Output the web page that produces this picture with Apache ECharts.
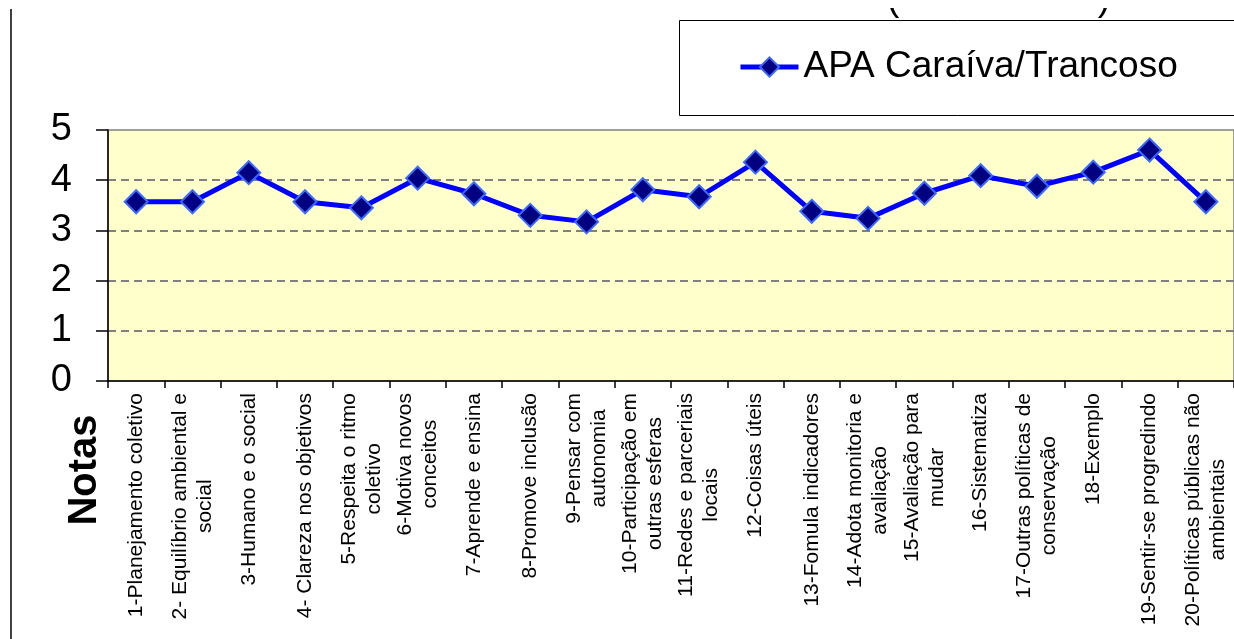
<!DOCTYPE html>
<html>
<head>
<meta charset="utf-8">
<script src="https://cdn.jsdelivr.net/npm/echarts@6/dist/echarts.min.js"></script>
<style>
html,body{margin:0;padding:0;background:#fff;}
#chart{width:1234px;height:639px;}
</style>
</head>
<body>
<div id="chart"></div>
<script>
const categories = [
  "1-Planejamento coletivo",
  "2- Equilíbrio ambiental e\nsocial",
  "3-Humano e o social",
  "4- Clareza nos objetivos",
  "5-Respeita o ritmo\ncoletivo",
  "6-Motiva novos\nconceitos",
  "7-Aprende e ensina",
  "8-Promove inclusão",
  "9-Pensar com\nautonomia",
  "10-Participação em\noutras esferas",
  "11-Redes e parceriais\nlocais",
  "12-Coisas úteis",
  "13-Fomula indicadores",
  "14-Adota monitoria e\navaliação",
  "15-Avaliação para\nmudar",
  "16-Sistematiza",
  "17-Outras políticas de\nconservação",
  "18-Exemplo",
  "19-Sentir-se progredindo",
  "20-Políticas públicas não\nambientais"
];
const seriesName = "APA Caraíva/Trancoso";
const values = [3.57, 3.57, 4.15, 3.57, 3.45, 4.04, 3.73, 3.30, 3.17, 3.81, 3.67, 4.36, 3.38, 3.24, 3.74, 4.09, 3.88, 4.16, 4.60, 3.57];
const yTicks = [0, 1, 2, 3, 4, 5];
const yAxisTitle = "Notas";

const chart = echarts.init(document.getElementById('chart'), null, {renderer: 'canvas'});
const FONT = "'Liberation Sans', Arial, sans-serif";

chart.setOption({
  animation: false,
  backgroundColor: '#ffffff',
  grid: {
    left: 108, top: 130, width: 1132, height: 251,
    show: true, backgroundColor: '#FFFFCC', borderColor: '#808080', borderWidth: 1.5
  },
  legend: {
    data: [seriesName],
    left: 738, top: 45,
    itemWidth: 58, itemHeight: 24,
    lineStyle: {width: 5},
    textStyle: {fontFamily: FONT, fontSize: 37, color: '#000', lineHeight: 44},
    padding: 0
  },
  xAxis: {
    type: 'category',
    data: categories,
    boundaryGap: true,
    axisLine: {lineStyle: {color: '#000', width: 1.5}},
    axisTick: {show: true, length: 7, lineStyle: {color: '#000', width: 1.5}},
    axisLabel: {
      interval: 0, rotate: 90, margin: 12, color: '#000',
      fontFamily: FONT, fontSize: 21,
      formatter: function (v) { return v.split('\n').map(s => '{c|' + s + '}').join('\n'); },
      rich: {c: {align: 'center', fontFamily: FONT, fontSize: 21, lineHeight: 25, color: '#000'}}
    }
  },
  yAxis: {
    type: 'value',
    min: yTicks[0], max: yTicks[yTicks.length - 1], interval: 1,
    axisLine: {show: true, lineStyle: {color: '#000', width: 1.5}},
    axisTick: {show: true, inside: false, length: 12, lineStyle: {color: '#000', width: 1.5}},
    axisLabel: {margin: 36, color: '#000', fontFamily: FONT, fontSize: 38},
    splitLine: {show: true, showMaxLine: false, showMinLine: false, lineStyle: {color: '#808080', width: 2, type: [8, 5]}}
  },
  series: [{
    name: seriesName,
    type: 'line',
    data: values,
    symbol: 'diamond',
    symbolSize: 23,
    lineStyle: {color: '#0000FF', width: 5},
    itemStyle: {color: '#000080', borderColor: '#3A6BFF', borderWidth: 2},
    z: 3
  }],
  graphic: [
    {type: 'line', shape: {x1: 11, y1: 9, x2: 11, y2: 639}, style: {stroke: '#000', lineWidth: 1.5}, silent: true},
    {type: 'rect', shape: {x: 679.5, y: 20.5, width: 600, height: 95}, style: {fill: '#fff', stroke: '#000', lineWidth: 1}, z: -1, silent: true},
    {type: 'text', x: 893, y: 19, z: 1, style: {text: '(', font: '38px ' + FONT, fill: '#000', textAlign: 'center', textVerticalAlign: 'bottom'}, silent: true},
    {type: 'text', x: 1104, y: 19, z: 1, style: {text: ')', font: '38px ' + FONT, fill: '#000', textAlign: 'center', textVerticalAlign: 'bottom'}, silent: true},
    {type: 'rect', z: 5, shape: {x: 860, y: 0, width: 280, height: 8}, style: {fill: '#fff'}, silent: true},
    {type: 'text', x: 85, y: 470, rotation: Math.PI / 2,
     style: {text: yAxisTitle, font: 'bold 40px ' + FONT, fill: '#000', textAlign: 'center', textVerticalAlign: 'middle'}, silent: true}
  ]
});
</script>
</body>
</html>
